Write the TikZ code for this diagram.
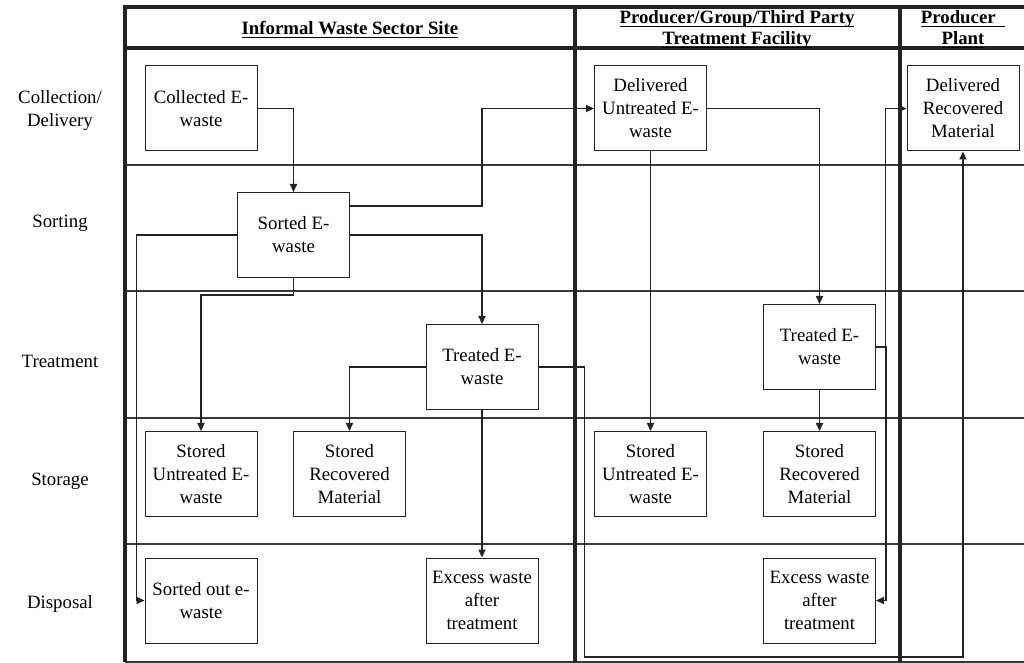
\documentclass[tikz,border=0pt]{standalone}
\usepackage{fontspec}
\setmainfont{Liberation Serif}
\definecolor{laneInk}{RGB}{35,35,35}
\usepackage{tikz}
\usetikzlibrary{arrows.meta,positioning,calc}

% underline that sits just under the baseline
\newcommand{\headline}[1]{\underline{\raisebox{0pt}[\height][0pt]{#1}}}

\tikzset{
  stage/.style={draw=laneInk, line width=0.5pt, minimum width=56pt, minimum height=42.5pt,
                inner sep=1pt, align=center, font=\fontsize{9.4}{11.5}\selectfont},
  lanename/.style={align=center, font=\fontsize{9.4}{11.5}\selectfont},
  colhead/.style={align=center, font=\fontsize{9.4}{10.6}\selectfont\bfseries},
  flow/.style={draw=laneInk, line width=0.55pt, -{Triangle[length=4pt,width=3.6pt]}},
  thickrule/.style={draw=laneInk, line width=2pt},
  thinrule/.style={draw=laneInk!90, line width=0.7pt}
}

\begin{document}
\begin{tikzpicture}[x=0.5pt, y=-0.5pt]
        \useasboundingbox (0,0) rectangle (1024,663);
        % swimlane frame
        \foreach \ly in {165,291,418,544}
          \draw[thinrule] (125,\ly) -- (1024,\ly);
        \draw[thinrule] (125,662) -- (1024,662);
        \draw[thickrule] (1024,7) -- (125,7) -- (125,662);
        \draw[thickrule] (125,48) -- (1024,48);
        \draw[thickrule] (575,7) -- (575,662);
        \draw[thickrule] (900,7) -- (900,662);

        % column heads
        \node[colhead] (headInformal) at (350,30) {\headline{Informal Waste Sector Site}};
        \node[colhead, anchor=north, inner sep=0pt] (headFacility) at (737,10)
          {\headline{Producer/Group/Third Party}\\\headline{Treatment Facility}};
        \node[colhead, anchor=north, inner sep=0pt] (headPlant) at (963,10)
          {\headline{Producer\ \ }\\\headline{Plant}};

        % lane names
        \node[lanename] (laneCollect) at (60,111) {Collection/\\Delivery};
        \node[lanename] (laneSort) at (60,223) {Sorting};
        \node[lanename] (laneTreat) at (60,361) {Treatment};
        \node[lanename] (laneStore) at (60,481) {Storage};
        \node[lanename] (laneDispose) at (60,604) {Disposal};

        % informal sector
        \node[stage] (collected) at (201,108.5) {Collected E-\\waste};
        \node[stage] (sortedE) at (293.5,235) {Sorted E-\\waste};
        \node[stage] (treatedL) at (482,367) {Treated E-\\waste};
        \node[stage] (storedUL) at (201,474) {Stored\\Untreated E-\\waste};
        \node[stage] (storedRL) at (349.5,474) {Stored\\Recovered\\Material};
        \node[stage] (sortedOut) at (201,600.5) {Sorted out e-\\waste};
        \node[stage] (excessL) at (482,600.5) {Excess waste\\after\\treatment};

        % treatment facility
        \node[stage] (delivU) at (650.5,108.5) {Delivered\\Untreated E-\\waste};
        \node[stage] (treatedR) at (819.5,347) {Treated E-\\waste};
        \node[stage] (storedUR) at (650.5,474) {Stored\\Untreated E-\\waste};
        \node[stage] (storedRR) at (819.5,474) {Stored\\Recovered\\Material};
        \node[stage] (excessR) at (819.5,600.5) {Excess waste\\after\\treatment};

        % producer plant
        \node[stage] (delivR) at (963,108.5) {Delivered\\Recovered\\Material};

        % flows
        \draw[flow] (collected.east) -| (sortedE.north);
        \draw[flow] ([yshift=14.5pt]sortedE.east) -| (treatedL.north |- delivU.west) -- (delivU.west);
        \draw[flow] (sortedE.west) -| ([xshift=-4pt]sortedOut.west) -- (sortedOut.west);
        \draw[flow] (sortedE.south) -- ++(0,17) -| (storedUL.north);
        \draw[flow] (sortedE.east) -| (treatedL.north);
        \draw[flow] (treatedL.west) -| (storedRL.north);
        \draw[flow] (treatedL.south) -- (excessL.north);
        \draw[flow] (treatedL.east) -| ++(46,290) -| (delivR.south);
        \draw[flow] (delivU.east) -| (treatedR.north);
        \draw[flow] (delivU.south) -- (storedUR.north);
        \draw[flow] (treatedR.south) -- (storedRR.north);
        \draw[flow] (treatedR.east) -| ([xshift=-10.5pt]delivR.west) -- (delivR.west);
        \draw[flow] (treatedR.east) -- ++(10,0) |- (excessR.east);
      \end{tikzpicture}
\end{document}
